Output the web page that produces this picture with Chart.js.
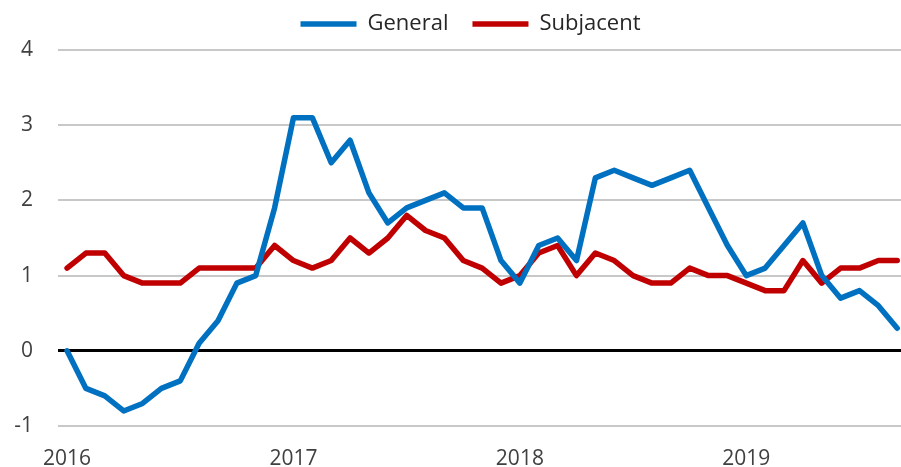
<!DOCTYPE html>
<html><head><meta charset="utf-8">
<script src="https://cdn.jsdelivr.net/npm/chart.js@4.4.0/dist/chart.umd.min.js"></script>
<style>html,body{margin:0;padding:0;background:#fff;}</style>
</head><body>
<canvas id="c" width="901" height="467"></canvas>
<script>
const months = [
  'Jan 2016','Feb 2016','Mar 2016','Apr 2016','May 2016','Jun 2016','Jul 2016','Aug 2016','Sep 2016','Oct 2016','Nov 2016','Dec 2016',
  'Jan 2017','Feb 2017','Mar 2017','Apr 2017','May 2017','Jun 2017','Jul 2017','Aug 2017','Sep 2017','Oct 2017','Nov 2017','Dec 2017',
  'Jan 2018','Feb 2018','Mar 2018','Apr 2018','May 2018','Jun 2018','Jul 2018','Aug 2018','Sep 2018','Oct 2018','Nov 2018','Dec 2018',
  'Jan 2019','Feb 2019','Mar 2019','Apr 2019','May 2019','Jun 2019','Jul 2019','Aug 2019','Sep 2019'
];
const general = [
  0, -0.5, -0.6, -0.8, -0.7, -0.5, -0.4, 0.1, 0.4, 0.9, 1.0, 1.9,
  3.1, 3.1, 2.5, 2.8, 2.1, 1.7, 1.9, 2.0, 2.1, 1.9, 1.9, 1.2,
  0.9, 1.4, 1.5, 1.2, 2.3, 2.4, 2.3, 2.2, 2.3, 2.4, 1.9, 1.4,
  1.0, 1.1, 1.4, 1.7, 1.0, 0.7, 0.8, 0.6, 0.3
];
const subjacent = [
  1.1, 1.3, 1.3, 1.0, 0.9, 0.9, 0.9, 1.1, 1.1, 1.1, 1.1, 1.4,
  1.2, 1.1, 1.2, 1.5, 1.3, 1.5, 1.8, 1.6, 1.5, 1.2, 1.1, 0.9,
  1.0, 1.3, 1.4, 1.0, 1.3, 1.2, 1.0, 0.9, 0.9, 1.1, 1.0, 1.0,
  0.9, 0.8, 0.8, 1.2, 0.9, 1.1, 1.1, 1.2, 1.2
];
const yearTickIndex = [0, 12, 24, 36];
const yearTickLabels = ['2016', '2017', '2018', '2019'];
const yTicks = [-1, 0, 1, 2, 3, 4];

Chart.defaults.font.family = "'Open Sans', sans-serif";
Chart.defaults.font.size = 21;
Chart.defaults.color = '#404040';

const toPts = arr => arr.map((v, i) => ({x: i, y: v}));

const legendShift = {
  id: 'legendShift',
  afterLayout(chart) {
    const l = chart.legend;
    if (l) { l.top -= 5; l.bottom -= 5; l.left -= 9; l.right -= 9; }
  }
};

new Chart(document.getElementById('c'), {
  type: 'line',
  data: {
    datasets: [
      {label: 'General', data: toPts(general), borderColor: '#0070C0', backgroundColor: '#0070C0',
       borderWidth: 5.5, pointRadius: 0, tension: 0, borderJoinStyle: 'round', borderCapStyle: 'round'},
      {label: 'Subjacent', data: toPts(subjacent), borderColor: '#C00000', backgroundColor: '#C00000',
       borderWidth: 5.5, pointRadius: 0, tension: 0, borderJoinStyle: 'round', borderCapStyle: 'round'}
    ]
  },
  plugins: [legendShift],
  options: {
    responsive: false,
    animation: false,
    devicePixelRatio: 1,
    layout: {padding: {top: -6, right: 0, left: 0, bottom: 0}},
    plugins: {
      tooltip: {enabled: false},
      legend: {
        position: 'top',
        fullSize: false,
        labels: {
          usePointStyle: true,
          pointStyle: 'line',
          pointStyleWidth: 56,
          padding: 24,
          color: '#262626',
          font: {size: 22}
        }
      }
    },
    scales: {
      x: {
        type: 'linear',
        min: -0.48,
        max: 44.2,
        grid: {display: false},
        border: {display: false},
        afterBuildTicks: s => { s.ticks = yearTickIndex.map(v => ({value: v})); },
        afterFit: s => { s.height = 41; },
        ticks: {
          padding: 12,
          maxRotation: 0,
          autoSkip: false,
          callback: (v) => { const k = yearTickIndex.indexOf(v); return k >= 0 ? yearTickLabels[k] : ''; }
        }
      },
      y: {
        min: -1,
        max: 4,
        afterBuildTicks: s => { s.ticks = yTicks.map(v => ({value: v})); },
        afterFit: s => { s.width = 58; },
        border: {display: false},
        grid: {
          drawTicks: false,
          color: c => c.tick && c.tick.value === 0 ? '#000000' : '#c8c8c8',
          lineWidth: c => c.tick && c.tick.value === 0 ? 3 : 2
        },
        ticks: {padding: 25}
      }
    }
  }
});
</script>
</body></html>
